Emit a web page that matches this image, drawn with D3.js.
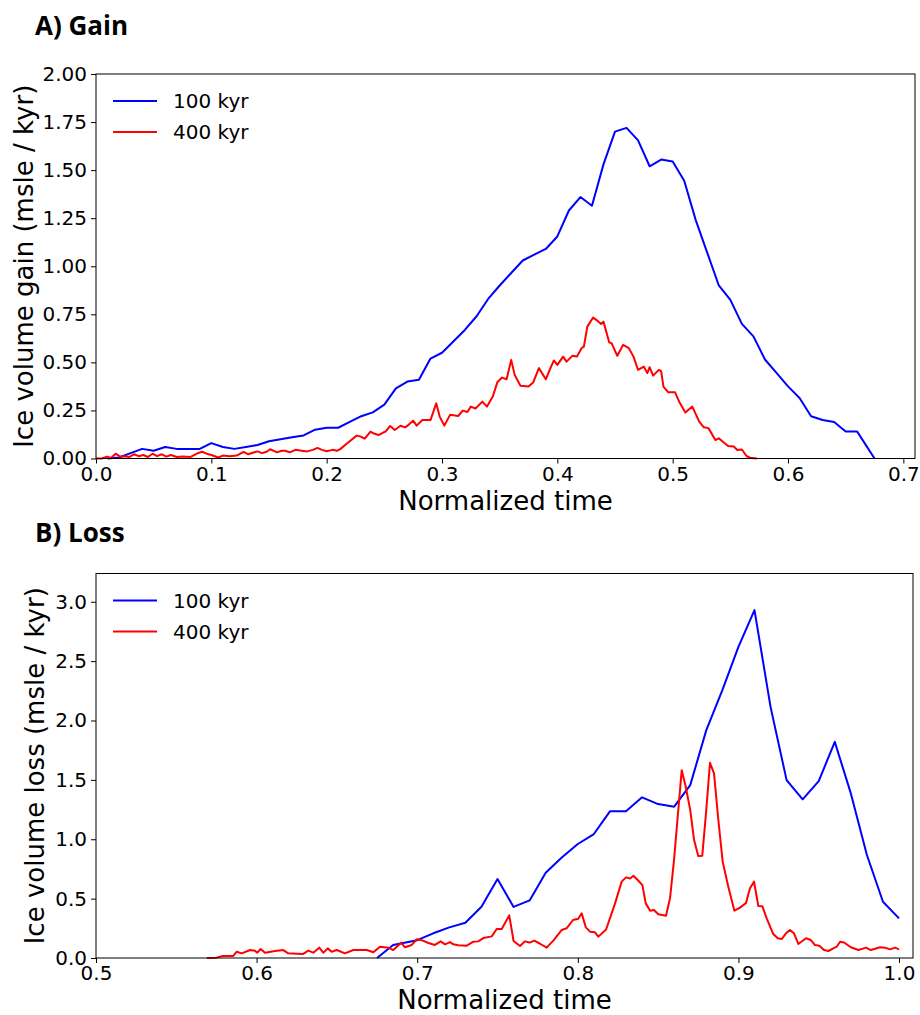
<html>
<head>
<script src="https://d3js.org/d3.v7.min.js"></script>
<style>
	body { margin: 0; background: white; }
	.tick text { font-family: "DejaVu Sans"; font-size: 20px; fill: black; }
	.tick line { stroke: black; }
	.frame { fill: none; stroke: black; stroke-width: 1; }
	.title { font-family: "Open Sans"; font-weight: 700; font-size: 26px; }
	.axlabel { font-family: "DejaVu Sans"; font-size: 26px; }
	.legend { font-family: "DejaVu Sans"; font-size: 20px; }
	.series { fill: none; stroke-width: 2; stroke-linejoin: round; }
</style>
</head>
<body>
<script>
// ---------------- data ----------------
var seriesNames = ["100 kyr", "400 kyr"];
var seriesColors = ["blue", "red"];

// A) gain
var gainTime100 = [0.01,0.02,0.03,0.04,0.05,0.06,0.07,0.08,0.09,0.10,0.11,0.12,0.13,0.14,0.15,0.16,0.17,0.18,0.19,0.20,
	0.21,0.22,0.23,0.24,0.25,0.26,0.27,0.28,0.29,0.30,0.31,0.32,0.33,0.34,0.35,0.36,0.37,0.38,0.39,0.40,
	0.41,0.42,0.43,0.44,0.45,0.46,0.47,0.48,0.49,0.50,0.51,0.52,0.53,0.54,0.55,0.56,0.57,0.58,0.59,0.60,
	0.61,0.62,0.63,0.64,0.65,0.66,0.675];
var gainVol100 = [0.0,0.005,0.028,0.05,0.04,0.06,0.05,0.05,0.05,0.08,0.06,0.05,0.06,0.07,0.09,0.10,0.11,0.12,0.15,0.16,
	0.16,0.19,0.22,0.24,0.28,0.365,0.40,0.41,0.52,0.55,0.61,0.67,0.74,0.83,0.90,0.965,1.03,1.06,1.09,1.155,
	1.29,1.36,1.315,1.53,1.70,1.72,1.655,1.52,1.555,1.545,1.445,1.24,1.07,0.90,0.825,0.70,0.635,0.515,0.445,0.375,
	0.315,0.22,0.20,0.19,0.14,0.14,0.0];

var gainTime400 = [0.0,0.005,0.0096,0.013,0.017,0.021,0.025,0.029,0.033,0.037,0.041,0.045,0.049,0.053,0.057,0.061,0.065,0.07,0.075,0.082,
	0.088,0.092,0.096,0.10,0.106,0.11,0.116,0.122,0.128,0.132,0.136,0.14,0.144,0.148,0.151,0.157,0.161,0.164,0.168,0.173,
	0.177,0.183,0.188,0.192,0.196,0.20,0.205,0.209,0.212,0.216,0.22,0.226,0.229,0.233,0.238,0.241,0.245,0.249,0.251,0.255,
	0.259,0.264,0.268,0.271,0.275,0.278,0.283,0.29,0.295,0.298,0.302,0.307,0.314,0.318,0.322,0.325,0.329,0.335,0.339,0.344,
	0.348,0.352,0.356,0.36,0.363,0.368,0.375,0.379,0.384,0.39,0.394,0.397,0.40,0.405,0.408,0.413,0.417,0.421,0.423,0.426,
	0.431,0.434,0.438,0.44,0.445,0.447,0.452,0.457,0.462,0.466,0.47,0.475,0.478,0.48,0.483,0.488,0.49,0.492,0.496,0.502,
	0.506,0.511,0.517,0.519,0.523,0.527,0.531,0.537,0.54,0.543,0.548,0.553,0.556,0.56,0.564,0.567,0.573];
var gainVol400 = [0.0,0.0,0.01,0.003,0.025,0.01,0.012,0.008,0.022,0.012,0.018,0.008,0.025,0.012,0.022,0.01,0.018,0.008,0.01,0.008,
	0.027,0.035,0.025,0.018,0.005,0.015,0.012,0.015,0.035,0.022,0.03,0.037,0.028,0.035,0.048,0.032,0.04,0.04,0.032,0.045,
	0.042,0.037,0.045,0.055,0.045,0.038,0.045,0.04,0.05,0.07,0.09,0.119,0.115,0.103,0.14,0.13,0.122,0.135,0.14,0.169,
	0.148,0.17,0.162,0.175,0.197,0.171,0.20,0.20,0.287,0.218,0.171,0.227,0.221,0.249,0.242,0.27,0.26,0.296,0.27,0.322,
	0.397,0.421,0.412,0.513,0.435,0.378,0.374,0.395,0.47,0.412,0.47,0.51,0.487,0.53,0.504,0.534,0.53,0.574,0.582,0.686,
	0.733,0.72,0.70,0.712,0.603,0.60,0.534,0.591,0.574,0.53,0.461,0.478,0.444,0.475,0.431,0.461,0.455,0.374,0.345,0.345,
	0.291,0.239,0.27,0.244,0.192,0.162,0.158,0.096,0.105,0.09,0.065,0.062,0.044,0.047,0.013,0.004,0.0];

// B) loss
var lossTime100 = [0.675,0.685,0.70,0.71,0.72,0.73,0.74,0.75,0.76,0.77,0.78,0.79,0.80,0.81,0.82,0.83,0.84,0.85,0.86,0.87,
	0.88,0.89,0.90,0.91,0.92,0.93,0.94,0.95,0.96,0.97,0.98,0.99,1.0];
var lossVol100 = [0.0,0.11,0.15,0.208,0.258,0.297,0.432,0.665,0.43,0.485,0.718,0.847,0.96,1.044,1.235,1.235,1.353,1.296,1.274,1.456,
	1.919,2.256,2.62,2.93,2.115,1.498,1.336,1.49,1.82,1.386,0.867,0.474,0.334];

var lossTime400 = [0.569,0.575,0.579,0.5855,0.5876,0.5907,0.596,0.599,0.6004,0.6025,0.6052,0.6115,0.6166,0.6197,0.625,0.629,0.6322,0.6353,0.639,0.6415,
	0.6443,0.6467,0.6499,0.655,0.6602,0.6686,0.6727,0.6768,0.682,0.6851,0.690,0.6924,0.6966,0.6997,0.7028,0.707,0.711,0.7146,0.7173,0.7204,
	0.7225,0.7256,0.7308,0.735,0.738,0.7412,0.7464,0.7495,0.7526,0.7573,0.760,0.764,0.767,0.770,0.773,0.7765,0.7806,0.785,0.79,0.793,
	0.797,0.8003,0.8024,0.805,0.8076,0.8107,0.8128,0.8176,0.8232,0.8273,0.83,0.8325,0.8346,0.8373,0.8402,0.8423,0.845,0.8474,0.8501,0.8549,
	0.8574,0.8599,0.8622,0.8647,0.8672,0.87,0.8724,0.875,0.8775,0.8798,0.8823,0.8848,0.8875,0.8902,0.8937,0.8975,0.901,0.9047,0.9072,0.9097,
	0.9124,0.9149,0.9176,0.9217,0.9245,0.927,0.9296,0.9321,0.9346,0.9373,0.9421,0.945,0.9477,0.9504,0.9533,0.956,0.9591,0.9612,0.9633,0.9658,
	0.97,0.9747,0.9795,0.9824,0.9882,0.9913,0.9944,0.9975,1.0];
var lossVol400 = [0.0,0.003,0.017,0.017,0.053,0.039,0.067,0.062,0.045,0.076,0.045,0.058,0.067,0.039,0.036,0.034,0.062,0.045,0.087,0.045,
	0.081,0.053,0.067,0.039,0.067,0.067,0.048,0.095,0.087,0.067,0.129,0.09,0.11,0.157,0.15,0.126,0.11,0.14,0.115,0.134,
	0.115,0.107,0.104,0.137,0.14,0.168,0.182,0.244,0.244,0.359,0.143,0.101,0.14,0.13,0.146,0.12,0.087,0.15,0.236,0.25,
	0.32,0.33,0.376,0.258,0.222,0.216,0.18,0.24,0.46,0.643,0.679,0.67,0.693,0.657,0.614,0.46,0.398,0.404,0.368,0.356,
	0.502,0.825,1.19,1.582,1.442,1.246,0.993,0.859,0.862,1.218,1.644,1.555,1.162,0.811,0.60,0.398,0.424,0.463,0.587,0.643,
	0.438,0.435,0.334,0.202,0.166,0.16,0.208,0.236,0.208,0.118,0.166,0.152,0.109,0.104,0.067,0.059,0.081,0.095,0.137,0.131,
	0.09,0.067,0.087,0.067,0.09,0.087,0.073,0.087,0.073];

var gainXTicks = [0.0,0.1,0.2,0.3,0.4,0.5,0.6,0.7];
var gainYTicks = [0.0,0.25,0.5,0.75,1.0,1.25,1.5,1.75,2.0];
var lossXTicks = [0.5,0.6,0.7,0.8,0.9,1.0];
var lossYTicks = [0.0,0.5,1.0,1.5,2.0,2.5,3.0];

// ---------------- layout ----------------
var svg = d3.select("body").append("svg")
	.attr("width", 920)
	.attr("height", 1015);

function drawPanel(p) {
	var x = d3.scaleLinear().domain(p.xdom).range([p.left, p.right]);
	var y = d3.scaleLinear().domain(p.ydom).range([p.bottom, p.top]);
	var g = svg.append("g");

	g.append("g")
		.attr("transform", "translate(0," + p.bottom + ")")
		.call(d3.axisBottom(x).tickValues(p.xticks).tickFormat(d3.format(".1f")).tickSize(5).tickPadding(3))
		.call(function(a){ a.select(".domain").remove(); });
	g.append("g")
		.attr("transform", "translate(" + p.left + ",0)")
		.call(d3.axisLeft(y).tickValues(p.yticks).tickFormat(d3.format(p.yfmt)).tickSize(5).tickPadding(4))
		.call(function(a){ a.select(".domain").remove(); });

	var line = d3.line()
		.x(function(d){ return x(d[0]); })
		.y(function(d){ return y(d[1]); });

	p.series.forEach(function(s, i) {
		var pts = d3.zip(s.t, s.v);
		g.append("path").attr("class", "series")
			.attr("d", line(pts))
			.style("stroke", seriesColors[i]);
	});

	g.append("rect").attr("class", "frame")
		.attr("x", p.left).attr("y", p.top)
		.attr("width", p.right - p.left).attr("height", p.bottom - p.top);

	// legend, no frame
	seriesNames.forEach(function(name, i) {
		var ly = p.top + 27 + i * 31;
		g.append("line").attr("x1", p.left + 17).attr("x2", p.left + 61)
			.attr("y1", ly).attr("y2", ly)
			.style("stroke", seriesColors[i]).style("stroke-width", 2);
		g.append("text").attr("class", "legend")
			.attr("x", p.left + 77).attr("y", ly).attr("dy", "0.36em")
			.text(name);
	});

	g.append("text").attr("class", "title").attr("x", 35).attr("y", p.titleY).text(p.title);
	g.append("text").attr("class", "axlabel")
		.attr("text-anchor", "middle")
		.attr("x", (p.left + p.right) / 2).attr("y", p.xlabelY)
		.text("Normalized time");
	g.append("text").attr("class", "axlabel")
		.attr("text-anchor", "middle")
		.attr("transform", "translate(" + p.ylabelX + "," + ((p.top + p.bottom) / 2) + ") rotate(-90)")
		.text(p.ylabel);
}

drawPanel({
	title: "A) Gain", titleY: 35,
	left: 96, right: 915, top: 74, bottom: 458.5,
	xdom: [0, 0.7101], ydom: [0, 2.0],
	xticks: gainXTicks, yticks: gainYTicks, yfmt: ".2f",
	xlabelY: 510, ylabelX: 33,
	ylabel: "Ice volume gain (msle / kyr)",
	series: [ { t: gainTime100, v: gainVol100 }, { t: gainTime400, v: gainVol400 } ]
});

drawPanel({
	title: "B) Loss", titleY: 542,
	left: 96, right: 913, top: 573.5, bottom: 958,
	xdom: [0.5, 1.0087], ydom: [0, 3.238],
	xticks: lossXTicks, yticks: lossYTicks, yfmt: ".1f",
	xlabelY: 1009, ylabelX: 44,
	ylabel: "Ice volume loss (msle / kyr)",
	series: [ { t: lossTime100, v: lossVol100 }, { t: lossTime400, v: lossVol400 } ]
});
</script>
</body>
</html>
